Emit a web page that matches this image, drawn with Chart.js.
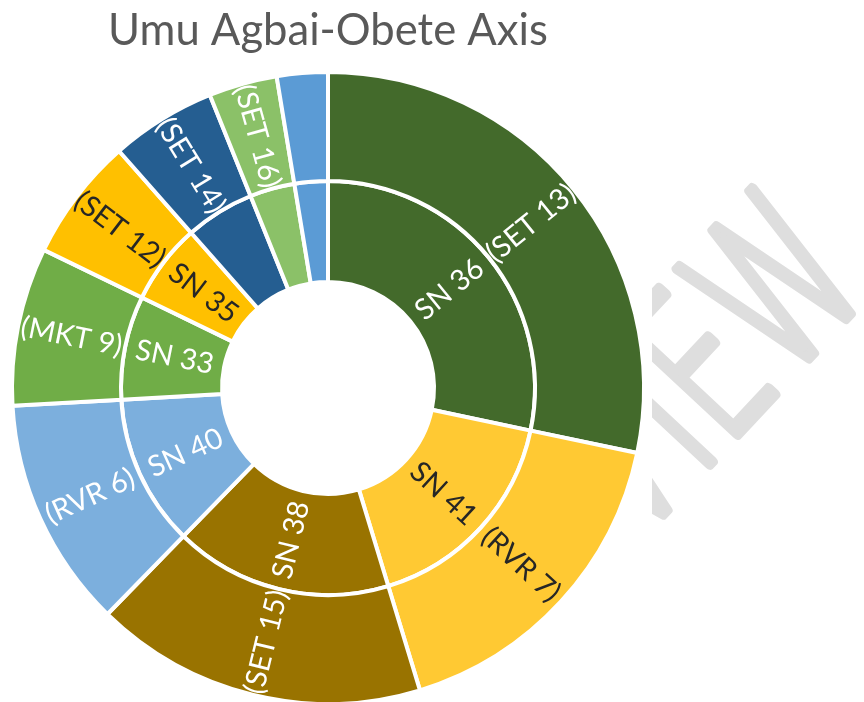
<!DOCTYPE html>
<html><head><meta charset="utf-8">
<script src="https://cdn.jsdelivr.net/npm/chart.js@4.4.1/dist/chart.umd.min.js"></script>
<style>html,body{margin:0;padding:0;background:#fff}</style>
</head><body>
<canvas id="c" width="864" height="702" style="display:block"></canvas>
<script>
// ---- data ----
const titleText = 'Umu Agbai-Obete Axis';
const innerLabels = ['SN 36', 'SN 41', 'SN 38', 'SN 40', 'SN 33', 'SN 35', '', '', ''];
const outerLabels = ['(SET 13)', '(RVR 7)', '(SET 15)', '(RVR 6)', '(MKT 9)', '(SET 12)', '(SET 14)', '(SET 16)', ''];
const shares = [28.3, 17.0, 17.0, 11.8, 8.1, 6.3, 5.4, 3.5, 2.6];
const watermarkText = 'VIEW';

// ---- style ----
const segColors = ['#436A2B', '#FFC933', '#997300', '#7CAFDD', '#70AD47', '#FFC000', '#255E91', '#8BC168', '#5B9BD5'];
const txtColors = ['#FFFFFF', '#262626', '#FFFFFF', '#FFFFFF', '#FFFFFF', '#262626', '#FFFFFF', '#FFFFFF', '#FFFFFF'];
const FAMILY = 'Lato';

function fitSize(family, weight, text, target) {
  const c = document.createElement('canvas').getContext('2d');
  c.font = weight + ' 100px ' + family;
  return 100 * target / c.measureText(text).width;
}
const titleSize = fitSize(FAMILY, 'normal', titleText, 440);
const labelSize = fitSize(FAMILY, 'normal', '(SET 13)', 106);

const CX = 328, CY = 388, R = 316, CUT = 106, MID = 207;
const titleLine = titleSize * 1.2;
const titleTop = 31 - titleLine / 2;

const labelPlugin = {
  id: 'radialLabels',
  afterDatasetsDraw(chart) {
    const ctx = chart.ctx;
    chart.data.datasets.forEach((ds, di) => {
      const meta = chart.getDatasetMeta(di);
      meta.data.forEach((arc, i) => {
        const txt = ds.segLabels[i];
        if (!txt) return;
        const p = arc.getProps(['x', 'y', 'startAngle', 'endAngle', 'innerRadius', 'outerRadius'], true);
        const a = (p.startAngle + p.endAngle) / 2;
        const r = (p.innerRadius + p.outerRadius) / 2;
        const x = p.x + Math.cos(a) * r, y = p.y + Math.sin(a) * r;
        let deg = (a * 180 / Math.PI + 90) % 360; if (deg < 0) deg += 360;
        let rot = a;
        if (deg > 180) rot = a + Math.PI;
        ctx.save();
        ctx.translate(x, y);
        ctx.rotate(rot);
        ctx.font = labelSize.toFixed(2) + 'px ' + FAMILY;
        ctx.fillStyle = txtColors[i];
        ctx.textAlign = 'center';
        ctx.textBaseline = 'middle';
        ctx.fillText(txt, 0, 0);
        ctx.restore();
      });
    });
  },
  afterDraw(chart) {
    const ctx = chart.ctx;
    const th = -47 * Math.PI / 180, sx = 0.64, size = 215, lw = 11;
    ctx.save();
    ctx.beginPath();
    ctx.rect(652, 0, 212, 702);
    ctx.clip();
    ctx.font = '200 ' + size + 'px "DejaVu Sans"';
    const pre = ctx.measureText('VI').width;
    const lsb = 0.09 * size;
    // place the outer bottom-left corner of "E" at (735,445)
    const rx = Math.cos(th), ry = Math.sin(th), dx = -ry, dy = rx;
    const along = (lsb - lw / 2) * sx, down = lw / 2;
    const ox = 735 - along * rx - down * dx, oy = 445 - along * ry - down * dy;
    ctx.translate(ox, oy);
    ctx.rotate(th);
    ctx.scale(sx, 1);
    ctx.fillStyle = '#DEDEDE';
    ctx.strokeStyle = '#DEDEDE';
    ctx.lineWidth = lw;
    ctx.lineJoin = 'round';
    ctx.textBaseline = 'alphabetic';
    ctx.textAlign = 'left';
    ctx.fillText(watermarkText, -pre, 0);
    ctx.strokeText(watermarkText, -pre, 0);
    ctx.restore();
  }
};

new Chart(document.getElementById('c'), {
  type: 'doughnut',
  data: {
    labels: innerLabels.map((s, i) => s || outerLabels[i] || 'segment ' + (i + 1)),
    datasets: [
      { data: shares, segLabels: outerLabels, backgroundColor: segColors, borderColor: '#FFFFFF', borderWidth: 4, weight: R - MID },
      { data: shares, segLabels: innerLabels, backgroundColor: segColors, borderColor: '#FFFFFF', borderWidth: 4, weight: MID - CUT }
    ]
  },
  options: {
    responsive: false,
    devicePixelRatio: 1,
    animation: false,
    radius: R,
    cutout: (CUT / R * 100).toFixed(4) + '%',
    layout: { padding: { left: 0, right: 864 - 2 * CX, top: 0, bottom: 0 } },
    plugins: {
      legend: { display: false },
      tooltip: { enabled: false },
      title: {
        display: true,
        text: titleText,
        color: '#595959',
        font: { family: FAMILY, size: titleSize, weight: 'normal', lineHeight: 1.2 },
        padding: { top: titleTop, bottom: (CY - (702 - CY)) - titleTop - titleLine }
      }
    }
  },
  plugins: [labelPlugin]
});
</script>
</body></html>
